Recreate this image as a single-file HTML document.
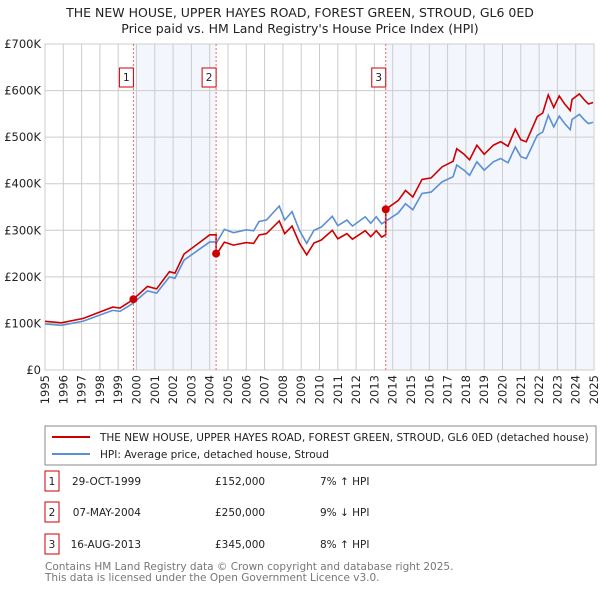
<!DOCTYPE html>
<html><head><meta charset="utf-8"><style>
body{margin:0;background:#fff;font-family:"DejaVu Sans","Liberation Sans",sans-serif;}
#wrap{position:relative;width:600px;height:590px;overflow:hidden;}
</style></head><body>
<div id="wrap">
<svg id="chart" width="600" height="590" xmlns="http://www.w3.org/2000/svg" font-family="DejaVu Sans, Liberation Sans, sans-serif">
<text x="300" y="17" text-anchor="middle" font-size="12.5" fill="#222">THE NEW HOUSE, UPPER HAYES ROAD, FOREST GREEN, STROUD, GL6 0ED</text>
<text x="300" y="33" text-anchor="middle" font-size="12.5" fill="#222">Price paid vs. HM Land Registry's House Price Index (HPI)</text>
<g id="shade"></g><g id="grid"></g><g id="axes"></g><g id="series"></g><g id="marks"></g>
<rect x="45" y="426" width="551" height="39" fill="#fff" stroke="#888"/>
<line x1="52" y1="437" x2="90" y2="437" stroke="#cc0000" stroke-width="2"/>
<text x="100" y="441" font-size="10.5" fill="#222">THE NEW HOUSE, UPPER HAYES ROAD, FOREST GREEN, STROUD, GL6 0ED (detached house)</text>
<line x1="52" y1="454" x2="90" y2="454" stroke="#5b8fd4" stroke-width="2"/>
<text x="100" y="458" font-size="10.5" fill="#222">HPI: Average price, detached house, Stroud</text>
<g id="table" font-size="10.5" fill="#222"></g>
<text x="45" y="570" font-size="10.5" fill="#777">Contains HM Land Registry data © Crown copyright and database right 2025.</text>
<text x="45" y="581" font-size="10.5" fill="#777">This data is licensed under the Open Government Licence v3.0.</text>
</svg>
</div>
<script>
const hpiYears=[1995,1995.9,1997.1,1998,1998.7,1999.1,1999.8,2000.6,2001.1,2001.8,2002.1,2002.6,2003.5,2004.0,2004.4,2004.8,2005.3,2006.0,2006.4,2006.7,2007.1,2007.8,2008.1,2008.5,2008.9,2009.3,2009.7,2010.1,2010.7,2011.0,2011.5,2011.8,2012.5,2012.8,2013.1,2013.4,2013.6,2014.3,2014.7,2015.1,2015.6,2016.1,2016.7,2017.3,2017.5,2017.9,2018.2,2018.6,2019.0,2019.5,2019.9,2020.3,2020.7,2021.0,2021.3,2021.9,2022.2,2022.5,2022.8,2023.1,2023.4,2023.7,2023.8,2024.2,2024.5,2024.7,2024.95];
const hpiValues=[99,96,105,118,128,126,143,170,165,200,197,236,261,275,275,302,295,301,299,319,322,352,322,340,300,272,300,307,330,310,322,309,329,315,329,314,319,337,357,344,379,382,404,415,440,429,418,447,429,447,454,445,479,458,454,504,511,547,522,545,529,516,538,549,536,529,532];
const saleLabels=["1","2","3"];
const saleYears=[1999.83,2004.35,2013.62];
const salePrices=[152,250,345];
const saleDates=["29-OCT-1999","07-MAY-2004","16-AUG-2013"];
const saleDiffs=["7% \u2191 HPI","9% \u2193 HPI","8% \u2191 HPI"];
const yTicks=[0,100,200,300,400,500,600,700];
const yTickLabels=["£0","£100K","£200K","£300K","£400K","£500K","£600K","£700K"];
const xTickYears=[1995,1996,1997,1998,1999,2000,2001,2002,2003,2004,2005,2006,2007,2008,2009,2010,2011,2012,2013,2014,2015,2016,2017,2018,2019,2020,2021,2022,2023,2024,2025];

const NS="http://www.w3.org/2000/svg";
const L=45,R=594,T=44,B=370;
const xs=y=>L+(y-1995)/30*(R-L);
const ys=v=>B-v/700*(B-T);
function mk(tag,attrs,parent){const e=document.createElementNS(NS,tag);for(const k in attrs)e.setAttribute(k,attrs[k]);document.getElementById(parent).appendChild(e);return e;}
function hpiAt(y){for(let i=0;i<hpiYears.length-1;i++){if(y>=hpiYears[i]&&y<=hpiYears[i+1]){const f=(y-hpiYears[i])/(hpiYears[i+1]-hpiYears[i]);return hpiValues[i]+f*(hpiValues[i+1]-hpiValues[i]);}}return hpiValues[hpiValues.length-1];}

// shading
const s1=mk('rect',{x:xs(saleYears[0]),y:T,width:xs(saleYears[1])-xs(saleYears[0]),height:B-T,fill:'#eef3fc',opacity:0.7},'shade');


const s2=mk('rect',{x:xs(saleYears[2]),y:T,width:R-xs(saleYears[2]),height:B-T,fill:'#eef3fc',opacity:0.7},'shade');



yTicks.forEach((v,i)=>{
 const g=mk('line',{x1:L,x2:R,y1:ys(v),y2:ys(v),stroke:'#cccccc','stroke-width':1},'grid');
 
 
 const t=mk('text',{x:L-4,y:ys(v)+4,'text-anchor':'end','font-size':11.5,fill:'#222'},'axes');
 t.textContent=yTickLabels[i];
 
 
});
xTickYears.forEach(y=>{
 const g=mk('line',{x1:xs(y),x2:xs(y),y1:T,y2:B,stroke:'#cccccc','stroke-width':1},'grid');
 
 
 const t=mk('text',{x:0,y:0,'text-anchor':'end','font-size':11.5,fill:'#222',transform:`translate(${xs(y)+4},${B+5}) rotate(-90)`},'axes');
 t.textContent=y;
 
 
});
const bx=mk('rect',{x:L,y:T,width:R-L,height:B-T,fill:'none',stroke:'#cccccc'},'axes');



// HPI line
const hp=mk('polyline',{points:hpiYears.map((y,i)=>xs(y)+','+ys(hpiValues[i])).join(' '),fill:'none',stroke:'#5b8fd4','stroke-width':1.6},'series');



// property line: HPI indexed from each sale
const ratios=saleYears.map((y,i)=>salePrices[i]/hpiAt(y));
const pts=[];
function ratioAt(y){let r=ratios[0];for(let i=0;i<saleYears.length;i++)if(y>=saleYears[i])r=ratios[i];return r;}
const allY=hpiYears.concat(saleYears).sort((a,b)=>a-b);
allY.forEach(y=>{
 const idx=saleYears.indexOf(y);
 if(idx>0){pts.push([y,hpiAt(y)*ratios[idx-1]]);}
 pts.push([y,hpiAt(y)*ratioAt(y)]);
});
const pp=mk('polyline',{points:pts.map(p=>xs(p[0])+','+ys(p[1])).join(' '),fill:'none',stroke:'#cc0000','stroke-width':1.6},'series');



saleYears.forEach((y,i)=>{
 const v=mk('line',{x1:xs(y),x2:xs(y),y1:T,y2:B,stroke:'#ee6666','stroke-width':1,'stroke-dasharray':'2,2'},'marks');
 
 
 const bxl=mk('rect',{x:xs(y)-14,y:68,width:14,height:19,fill:'#fff',stroke:'#cc0000'},'marks');
 
 
 const tl=mk('text',{x:xs(y)-7,y:81,'text-anchor':'middle','font-size':10.5,fill:'#222'},'marks');
 tl.textContent=saleLabels[i];
 
 
 const c=mk('circle',{cx:xs(y),cy:ys(salePrices[i]),r:4,fill:'#cc0000'},'marks');
 
 
 const ry=[482,513,545][i];
 const rb=mk('rect',{x:45,y:ry-11,width:14,height:20,fill:'#fff',stroke:'#cc0000'},'table');
 
 
 const rt=mk('text',{x:52,y:ry+3,'text-anchor':'middle'},'table');
 rt.textContent=saleLabels[i];
 
 
 const dt=mk('text',{x:141,y:ry+3,'text-anchor':'end'},'table');
 dt.textContent=saleDates[i];
 
 
 const pr=mk('text',{x:215,y:ry+3},'table');
 pr.textContent='£'+salePrices[i].toLocaleString('en-GB')+',000';
 
 
 const df=mk('text',{x:320,y:ry+3},'table');
 df.textContent=saleDiffs[i];
 
 
});
</script>
</body></html>
